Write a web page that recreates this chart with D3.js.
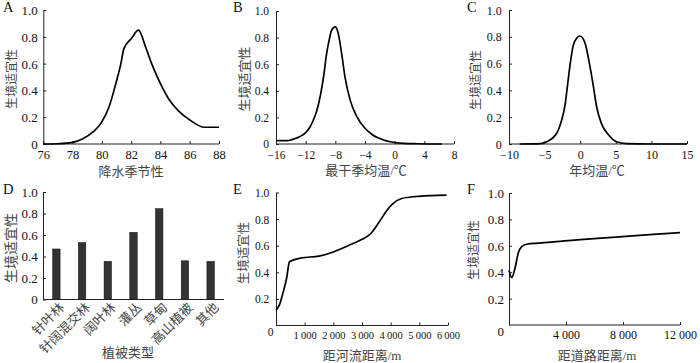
<!DOCTYPE html>
<html><head><meta charset="utf-8">
<script src="https://cdn.jsdelivr.net/npm/d3@7"></script>
<style>body{margin:0;background:#fff}svg{display:block}</style>
</head><body>
<svg id="c" width="700" height="363"></svg>
<script>
// ---------- DATA ----------
// A: 降水季节性
const aX = [76, 77, 78, 78.7, 79.4, 80, 80.5, 81, 81.3, 81.5, 82, 82.5, 83, 83.4, 84, 84.6, 85.3, 86, 87, 88];
const aY = [0, 0.002, 0.012, 0.04, 0.09, 0.165, 0.28, 0.47, 0.6, 0.71, 0.785, 0.85, 0.72, 0.6, 0.45, 0.33, 0.24, 0.18, 0.125, 0.125];
const aTicks = [76, 78, 80, 82, 84, 86, 88];
const aLabels = ["76", "78", "80", "82", "84", "86", "88"];
// B: 最干季均温
const bX = [-16, -14.5, -14, -13.5, -13, -12.5, -12, -11.5, -11, -10.5, -10, -9.6, -9.2, -8.8, -8.5, -8, -7.6, -7.1, -6.7, -6, -5.1, -4, -3, -2.4, -1.5, -0.6, 1.2, 3, 6.4];
const bY = [0.025, 0.025, 0.03, 0.04, 0.05, 0.065, 0.085, 0.12, 0.175, 0.25, 0.37, 0.5, 0.67, 0.79, 0.855, 0.88, 0.83, 0.66, 0.505, 0.33, 0.205, 0.118, 0.07, 0.05, 0.03, 0.017, 0.005, 0.002, 0];
const bTicks = [-16, -12, -8, -4, 0, 4, 8];
const bLabels = ["\u221216", "\u221212", "\u22128", "\u22124", "0", "4", "8"];
// C: 年均温
const cX = [-8.5, -6, -4.7, -3.3, -2.6, -2.1, -1.8, -1.4, -1, -0.5, -0.1, 0.3, 0.7, 1.3, 1.85, 2.3, 3, 4, 5.1, 6.5, 10, 15];
const cY = [0, 0.001, 0.017, 0.08, 0.18, 0.3, 0.43, 0.6, 0.73, 0.79, 0.806, 0.795, 0.75, 0.6, 0.43, 0.28, 0.15, 0.067, 0.017, 0.003, 0, 0];
const cTicks = [-10, -5, 0, 5, 10, 15];
const cLabels = ["\u221210", "\u22125", "0", "5", "10", "15"];
// D: 植被类型
const dCats = ["针叶林", "针阔混交林", "阔叶林", "灌丛", "草甸", "高山植被", "其他"];
const dVals = [0.47, 0.53, 0.355, 0.625, 0.845, 0.36, 0.355];
// E: 距河流距离
const eX = [0, 120, 250, 370, 470, 880, 1500, 2000, 2550, 3000, 3300, 3600, 3840, 4070, 4360, 4880, 5400, 5950];
const eY = [0.115, 0.155, 0.25, 0.355, 0.48, 0.508, 0.522, 0.553, 0.603, 0.648, 0.69, 0.778, 0.858, 0.915, 0.953, 0.97, 0.977, 0.98];
const eTicks = [1000, 2000, 3000, 4000, 5000, 6000];
const eLabels = ["1\u2009000", "2\u2009000", "3\u2009000", "4\u2009000", "5\u2009000", "6\u2009000"];
// F: 距道路距离
const fX = [0, 190, 420, 650, 890, 1240, 2060, 12000];
const fY = [0.415, 0.36, 0.43, 0.545, 0.593, 0.612, 0.62, 0.70];
const fTicks = [4000, 8000, 12000];
const fLabels = ["4 000", "8 000", "12 000"];
// y ticks
const yTicksFull = [0, 0.2, 0.4, 0.6, 0.8, 1.0];
const yLabelsFull = ["0", "0.2", "0.4", "0.6", "0.8", "1.0"];
const yTicksNoZero = [0.2, 0.4, 0.6, 0.8, 1.0];
const yLabelsNoZero = ["0.2", "0.4", "0.6", "0.8", "1.0"];
const yTitle = "生境适宜性";

// ---------- DRAW ----------
const svg = d3.select("#c");
const NUM = "'Liberation Serif','Times New Roman',serif";
const CJK = "'Liberation Serif','Noto Sans CJK SC',serif";
const AX = "#222", TXT = "#111", CTXT = "#444";

function styleAxis(sel, font, size) {
  sel.attr("font-family", font).attr("font-size", size);
  sel.selectAll("path.domain").attr("stroke", AX).attr("stroke-width", 1);
  sel.selectAll(".tick line").attr("stroke", AX).attr("stroke-width", 1);
  sel.selectAll("text").attr("fill", TXT);
}

function frame(o) {
  const g = svg.append("g");
  const y = d3.scaleLinear().domain([0, 1]).range([o.y0, o.y1]);
  const ya = d3.axisLeft(y).tickValues(o.yTicks).tickFormat((d, i) => o.yLabels[i])
    .tickSizeInner(-3).tickSizeOuter(0);
  const yg = g.append("g").attr("transform", `translate(${o.x0},0)`).call(ya);
  styleAxis(yg, NUM, o.yFont);
  yg.selectAll("text").attr("x", -o.yGap).attr("dy", "0.34em");
  // letter
  g.append("text").attr("x", o.lx).attr("y", o.ly).attr("font-family", NUM)
    .attr("font-size", 14.5).attr("fill", TXT).text(o.letter);
  // y title
  g.append("text").attr("transform", `translate(${o.ytx},${o.yty}) rotate(-90)`)
    .attr("text-anchor", "middle").attr("dy", "0.36em").attr("font-family", CJK)
    .attr("font-size", o.ytFont).attr("fill", CTXT).text(yTitle);
  // x title
  g.append("text").attr("x", o.xtx).attr("y", o.xty).attr("text-anchor", "middle")
    .attr("font-family", CJK).attr("font-size", 13).attr("fill", CTXT).text(o.xTitle);
  if (o.corner0) {
    g.append("text").attr("x", o.corner0[0]).attr("y", o.corner0[1]).attr("text-anchor", "end")
      .attr("font-family", NUM).attr("font-size", o.yFont).attr("fill", TXT).text("0");
  }
  return {g, y};
}

function linePanel(o) {
  const {g, y} = frame(o);
  const x = d3.scaleLinear().domain(o.xDomain).range([o.x0, o.x1]);
  const xa = d3.axisBottom(x).tickValues(o.xTicks).tickFormat((d, i) => o.xLabels[i])
    .tickSizeInner(-3).tickSizeOuter(0);
  const xg = g.append("g").attr("transform", `translate(0,${o.y0})`).call(xa);
  styleAxis(xg, NUM, o.xFont);
  xg.selectAll("text").attr("y", o.xLabY).attr("dy", null);
  xg.select("path.domain").attr("d", `M${o.x0},0H${o.x1}`);
  const pts = d3.zip(o.xs, o.ys);
  g.append("path").datum(pts)
    .attr("d", d3.line().x(d => x(d[0])).y(d => y(d[1])).curve(d3.curveMonotoneX))
    .attr("fill", "none").attr("stroke", "#000").attr("stroke-width", 1.7)
    .attr("stroke-linejoin", "round");
}

function barPanel(o) {
  const {g, y} = frame(o);
  const x = d3.scaleBand().domain(o.cats).range([o.x0, o.x1]).paddingInner(0.71).paddingOuter(0.375);
  g.append("line").attr("x1", o.x0).attr("x2", o.x1).attr("y1", o.y0).attr("y2", o.y0)
    .attr("stroke", AX).attr("stroke-width", 1);
  g.selectAll("rect.bar").data(o.vals).join("rect").attr("class", "bar")
    .attr("x", (d, i) => x(o.cats[i])).attr("width", x.bandwidth())
    .attr("y", d => y(d)).attr("height", d => y(0) - y(d))
    .attr("fill", "#333").attr("stroke", "#111").attr("stroke-width", 0.5);
  g.selectAll("text.cat").data(o.cats).join("text").attr("class", "cat")
    .attr("transform", d => `translate(${x(d) + x.bandwidth() / 2 + 2},${o.y0 + 2}) rotate(-45)`)
    .attr("text-anchor", "end").attr("dy", "0.75em").attr("font-family", CJK)
    .attr("font-size", 13).attr("fill", CTXT).text(d => d);
}

linePanel({letter: "A", lx: 3, ly: 12, x0: 43.3, x1: 219, y0: 144, y1: 10,
  xDomain: [76, 88], xTicks: aTicks, xLabels: aLabels, xFont: 12.5, xLabY: 15,
  yTicks: yTicksFull, yLabels: yLabelsFull, yFont: 13, yGap: 5.6,
  ytx: 12, yty: 79, ytFont: 12, xTitle: "降水季节性", xtx: 131, xty: 175.5,
  xs: aX, ys: aY});

linePanel({letter: "B", lx: 233, ly: 12, x0: 276, x1: 454, y0: 144, y1: 11,
  xDomain: [-16, 8], xTicks: bTicks, xLabels: bLabels, xFont: 11.5, xLabY: 15.3,
  yTicks: yTicksFull, yLabels: yLabelsFull, yFont: 11.5, yGap: 7,
  ytx: 244, yty: 79, ytFont: 13, xTitle: "最干季均温/℃", xtx: 366, xty: 175,
  xs: bX, ys: bY});

linePanel({letter: "C", lx: 467, ly: 12, x0: 509, x1: 687, y0: 144, y1: 10,
  xDomain: [-10, 15], xTicks: cTicks, xLabels: cLabels, xFont: 12, xLabY: 15.3,
  yTicks: yTicksFull, yLabels: yLabelsFull, yFont: 12, yGap: 7.3,
  ytx: 475.5, yty: 80, ytFont: 12, xTitle: "年均温/℃", xtx: 597, xty: 175,
  xs: cX, ys: cY});

barPanel({letter: "D", lx: 3, ly: 194, x0: 43, x1: 224, y0: 299.5, y1: 192,
  yTicks: yTicksFull, yLabels: yLabelsFull, yFont: 13, yGap: 5.3,
  ytx: 11, yty: 248, ytFont: 14, xTitle: "植被类型", xtx: 128, xty: 357,
  cats: dCats, vals: dVals});

linePanel({letter: "E", lx: 233, ly: 194, x0: 276, x1: 448, y0: 325.5, y1: 192.5,
  xDomain: [0, 6000], xTicks: eTicks, xLabels: eLabels, xFont: 10.5, xLabY: 13,
  yTicks: yTicksNoZero, yLabels: yLabelsNoZero, yFont: 11.5, yGap: 6.7,
  corner0: [273.5, 335.5],
  ytx: 243, yty: 253, ytFont: 12.5, xTitle: "距河流距离/m", xtx: 362, xty: 360,
  xs: eX, ys: eY});

linePanel({letter: "F", lx: 467, ly: 194, x0: 509, x1: 680, y0: 325, y1: 193,
  xDomain: [0, 12000], xTicks: fTicks, xLabels: fLabels, xFont: 12, xLabY: 14,
  yTicks: yTicksNoZero, yLabels: yLabelsNoZero, yFont: 13, yGap: 5,
  corner0: [504, 335.5],
  ytx: 474, yty: 250, ytFont: 12, xTitle: "距道路距离/m", xtx: 597, xty: 360,
  xs: fX, ys: fY});
</script>
</body></html>
